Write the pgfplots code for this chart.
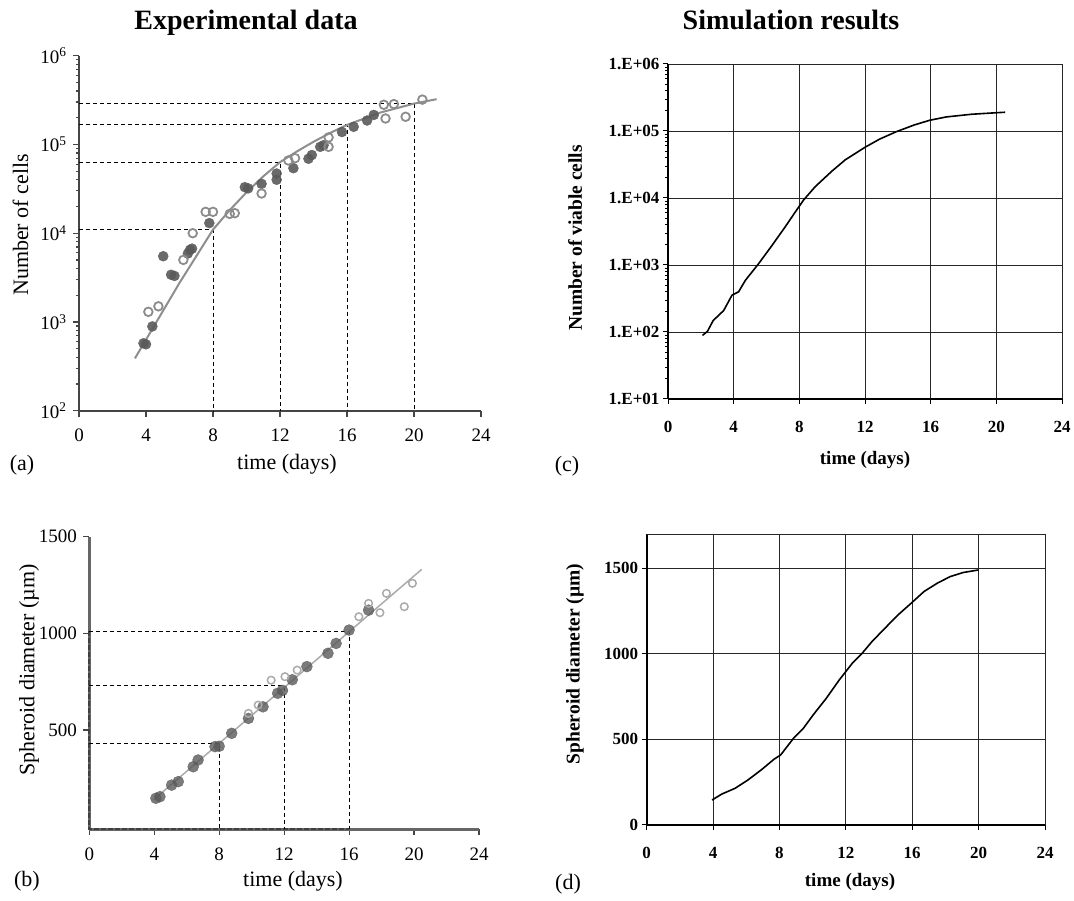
\documentclass[border=0pt]{standalone}
\usepackage{fontspec}
\setmainfont{Liberation Serif}
\usepackage{pgfplots}
\pgfplotsset{compat=1.18}

\definecolor{ptdark}{HTML}{5A5A5A}
\definecolor{ptopen}{HTML}{8C8C8C}
\definecolor{ptlight}{HTML}{ABABAB}
\definecolor{fitgray}{HTML}{8E8E8E}
\definecolor{axgray}{HTML}{454545}

\newcommand{\fs}[1]{\fontsize{#1}{#1}\selectfont}

\pgfplotsset{
  expt/.style={
    scale only axis, clip=false,
    axis x line*=bottom, axis y line*=left,
    axis line style={-, axgray, line width=2pt},
    tick align=outside, major tick length=6pt,
    tick style={axgray, line width=1.2pt},
    xmin=0, xmax=24, xtick={0,4,...,24},
    tick label style={font=\fs{19}},
    xticklabel style={yshift=-9pt},
    yticklabel style={xshift=-3pt},
    /pgf/number format/assume math mode=true,
    /pgf/number format/1000 sep={},
  },
  simu/.style={
    scale only axis,
    axis x line*=bottom, axis y line*=left,
    axis line style={-, black, line width=2pt},
    grid=major, grid style={black!85, line width=0.8pt},
    tick align=outside, major tick length=5pt,
    tick style={black, line width=1pt},
    xmin=0, xmax=24, xtick={0,4,...,24},
    tick label style={font=\bfseries\fs{17}},
    xticklabel style={yshift=-14pt},
    /pgf/number format/assume math mode=true,
    /pgf/number format/1000 sep={},
  },
  ddash/.style={black, line width=0.9pt, dash pattern=on 4pt off 3pt},
  filled/.style={only marks, mark=*, mark size=5pt,
    mark options={fill=ptdark, draw=ptdark, opacity=0.9}},
  hollow/.style={only marks, mark=o, mark size=4.3pt,
    mark options={draw=ptopen, line width=1.8pt}},
}

\begin{document}
\begin{tikzpicture}
\path[use as bounding box] (0pt,0pt) rectangle (1074pt,900pt);

% titles
\node[anchor=base, font=\bfseries\fs{28}] at (246pt,870pt) {Experimental data};
\node[anchor=base, font=\bfseries\fs{28}] at (791pt,870pt) {Simulation results};

% ---------------- (a) ----------------
\begin{axis}[expt, at={(79pt,489.3pt)}, anchor=south west,
  width=402pt, height=355pt,
  ymode=log, ymin=100, ymax=1e6,
  ytick={100,1000,10000,100000,1000000},
  yticklabels={10\textsuperscript{2},10\textsuperscript{3},10\textsuperscript{4},10\textsuperscript{5},10\textsuperscript{6}},
]
\addplot[ddash] coordinates {(0,11000) (8,11000) (8,100)};
\addplot[ddash] coordinates {(0,63000) (12,63000) (12,100)};
\addplot[ddash] coordinates {(0,166000) (16,166000) (16,100)};
\addplot[ddash] coordinates {(0,290000) (20,290000) (20,100)};
\addplot[fitgray, line width=2pt] coordinates {
  (3.34,389) (4,631) (5,1318) (6,2754) (7,5495) (8,10965) (9,18197)
  (10,28840) (11,43652) (12,63096) (13,83176) (14,107152) (15,134896)
  (16,165959) (17,194984) (18,229087) (19,257040) (20,288403) (21.35,323594)};
\addplot[filled] coordinates {
  (3.85,575) (4.0,560) (4.38,890) (5.03,5500) (5.5,3400) (5.7,3300)
  (6.5,5900) (6.63,6500) (6.75,6700) (7.78,13000) (9.9,33000) (10.1,32000)
  (10.9,36000) (11.8,47000) (11.8,40000) (12.8,54000) (13.7,69000)
  (13.9,76000) (14.4,94000) (14.6,98000) (15.7,138000) (16.4,158000)
  (17.2,186000) (17.6,215000)};
\addplot[hollow] coordinates {
  (4.14,1300) (4.74,1500) (6.23,5000) (6.79,10000) (7.56,17400) (8.0,17400)
  (9.0,16500) (9.3,16800) (10.9,28000) (12.5,66000) (12.9,70000)
  (14.9,94000) (14.9,120000) (18.2,280000) (18.8,285000) (18.3,196000)
  (19.5,205000) (20.5,320000)};
\end{axis}
\node[anchor=base, font=\fs{22}] at (287pt,430pt) {time (days)};
\node[rotate=90, font=\fs{22}] at (20.5pt,675pt) {Number of cells};
\node[anchor=base, font=\fs{22}] at (22pt,429pt) {(a)};

% ---------------- (b) ----------------
\begin{axis}[expt, at={(89.3pt,71pt)}, anchor=south west,
  width=389.7pt, height=292.3pt,
  axis line style={-, black!60, line width=3pt},
  ymin=-12, ymax=1500, ytick={500,1000,1500},
]
% dark dashed overlay seen along both axes of the scan
\addplot[black!75, line width=2pt, dash pattern=on 5pt off 2pt] coordinates {(0,1012) (0,-12) (16,-12)};
\addplot[ddash] coordinates {(0,428) (8,428) (8,-12)};
\addplot[ddash] coordinates {(0,729) (12,729) (12,-12)};
\addplot[ddash] coordinates {(0,1012) (16,1012) (16,-12)};
\addplot[ptlight, line width=1.5pt] coordinates {(3.94,138) (20.47,1331)};
\addplot[filled, mark size=5.5pt, mark options={fill=ptdark, draw=ptdark, opacity=0.8}] coordinates {
  (4.1,147) (4.35,155) (5.07,215) (5.48,233) (6.4,310) (6.7,345)
  (7.74,414) (8.0,416) (8.77,483) (9.8,560) (10.7,620) (11.6,690)
  (11.9,705) (12.5,760) (13.4,828) (14.7,897) (15.2,948) (16.0,1017)
  (17.2,1120)};
\addplot[hollow, mark size=3.8pt, mark options={draw=ptlight, line width=1.5pt}] coordinates {
  (9.8,586) (10.4,629) (11.2,758) (12.05,776) (12.8,810) (16.6,1086)
  (17.2,1155) (17.9,1107) (18.3,1207) (19.4,1138) (19.9,1259)};
\end{axis}
\node[anchor=base, font=\fs{22}] at (293pt,13pt) {time (days)};
\node[rotate=90, font=\fs{22}] at (29pt,230pt) {Spheroid diameter (µm)};
\node[anchor=base, font=\fs{22}] at (27pt,13pt) {(b)};

% ---------------- (c) ----------------
\begin{axis}[simu, at={(668pt,501pt)}, anchor=south west,
  width=394pt, height=335pt,
  ymode=log, ymin=10, ymax=1e6,
  ytick={10,100,1000,10000,100000,1000000},
  yticklabels={1.E+01,1.E+02,1.E+03,1.E+04,1.E+05,1.E+06},
]
\addplot[black, line width=1.6pt] coordinates {
  (2.1,89) (2.4,102) (2.75,148) (3.39,209) (3.9,355) (4.3,398)
  (4.71,589) (5.52,1047) (6.33,1950) (7.14,3715) (7.75,6166) (8.26,9333)
  (8.97,14791) (9.98,25119) (10.8,37154) (12.02,57544) (12.9,75858)
  (13.91,97724) (15.0,123027) (15.94,144544) (16.96,162181) (18.5,177828)
  (19.83,186209) (20.54,190546)};
\end{axis}
\node[anchor=base, font=\bfseries\fs{19}] at (865pt,435pt) {time (days)};
\node[rotate=90, font=\bfseries\fs{19.5}] at (575pt,662pt) {Number of viable cells};
\node[anchor=base, font=\fs{22}] at (567pt,428pt) {(c)};

% ---------------- (d) ----------------
\begin{axis}[simu, at={(646.7pt,75pt)}, anchor=south west,
  width=398.3pt, height=291pt,
  ymin=0, ymax=1700, ytick={0,500,1000,1500},
  extra y ticks={1700}, extra y tick labels={},
  extra y tick style={grid=major, major tick length=0pt},
]
\addplot[black, line width=1.6pt] coordinates {
  (3.94,146) (4.53,181) (5.32,214) (6.1,263) (6.89,321) (7.67,384)
  (8.07,409) (8.46,458) (8.85,507) (9.44,565) (10.03,643) (10.82,740)
  (11.6,847) (12.39,945) (12.98,1003) (13.57,1071) (14.35,1149)
  (15.14,1227) (15.93,1295) (16.71,1364) (17.5,1412) (18.28,1451)
  (19.07,1475) (20.0,1490)};
\end{axis}
\node[anchor=base, font=\bfseries\fs{19}] at (850pt,14pt) {time (days)};
\node[rotate=90, font=\bfseries\fs{19.5}] at (575pt,236pt) {Spheroid diameter (µm)};
\node[anchor=base, font=\fs{22}] at (568pt,11pt) {(d)};

\end{tikzpicture}
\end{document}
